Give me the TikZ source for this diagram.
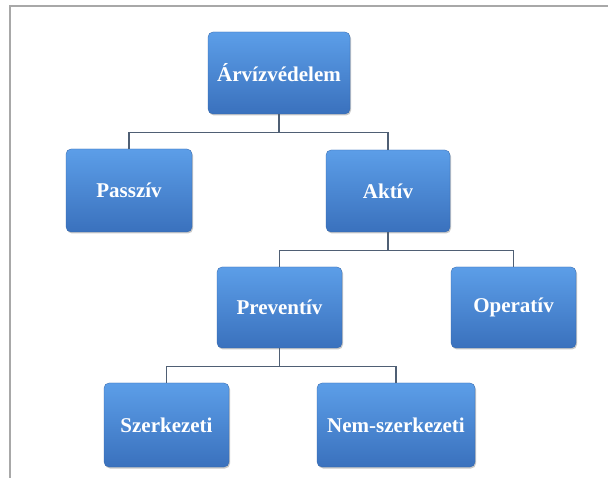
\documentclass[tikz,border=0pt]{standalone}
\usepackage{fontspec}
\setmainfont{Liberation Serif}
\usetikzlibrary{shadows}
\definecolor{boxtop}{HTML}{5C9EE8}
\definecolor{boxbot}{HTML}{3A71BD}
\definecolor{linkc}{HTML}{4F5F74}
\definecolor{framec}{HTML}{A8A8A8}
\tikzset{
  box/.style={rectangle, rounded corners=5pt, top color=boxtop, bottom color=boxbot,
    draw=boxbot!90!black, line width=0.3pt, text=white,
    font=\fontsize{21}{25}\selectfont\bfseries, inner sep=0pt,
    drop shadow={shadow xshift=1pt, shadow yshift=-1.5pt, opacity=0.3, fill=black!70}},
  link/.style={draw=linkc, line width=1.1pt}
}
\begin{document}
\begin{tikzpicture}[x=1pt,y=-1pt]
\useasboundingbox (0,0) rectangle (608,478);
\fill[white] (0,0) rectangle (608,478);
\draw[framec, line width=1.6pt] (10,478) -- (10,6) -- (608,6);
\node[box, minimum width=142pt, minimum height=82pt] (arv) at (279,73) {Árvízvédelem};
\node[box, minimum width=126pt, minimum height=83pt] (pas) at (129,190.5) {Passzív};
\node[box, minimum width=124pt, minimum height=82pt] (akt) at (388,191) {Aktív};
\node[box, minimum width=125pt, minimum height=81pt] (pre) at (279.5,307.5) {Preventív};
\node[box, minimum width=125pt, minimum height=81pt] (ope) at (513.5,307.5) {Operatív};
\node[box, minimum width=125pt, minimum height=84pt] (sze) at (166.5,425) {Szerkezeti};
\node[box, minimum width=158pt, minimum height=84pt] (nem) at (396,425) {Nem-szerkezeti};
\draw[link] (arv.south) -- ++(0,18) -| (pas.north);
\draw[link] (arv.south) -- ++(0,18) -| (akt.north);
\draw[link] (akt.south) -- ++(0,18) -| (pre.north);
\draw[link] (akt.south) -- ++(0,18) -| (ope.north);
\draw[link] (pre.south) -- ++(0,18) -| (sze.north);
\draw[link] (pre.south) -- ++(0,18) -| (nem.north);
\end{tikzpicture}
\end{document}
